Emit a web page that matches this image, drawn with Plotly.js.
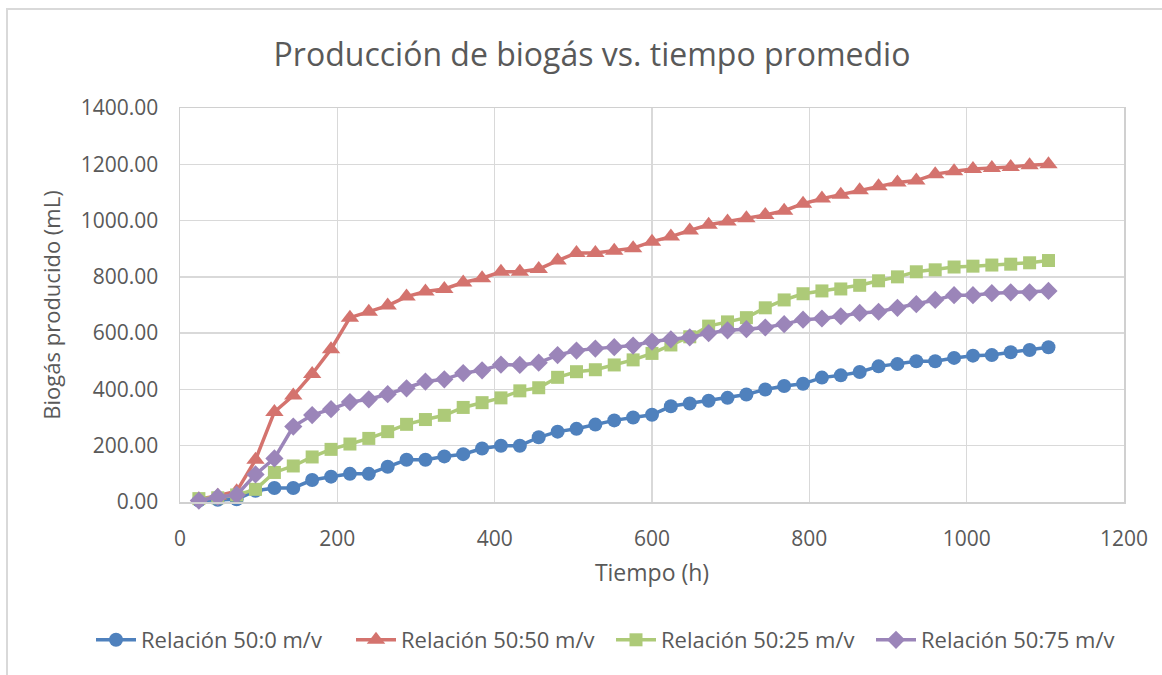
<!DOCTYPE html>
<html>
<head>
<meta charset="utf-8">
<script src="https://cdn.plot.ly/plotly-3.0.1.min.js"></script>
<style>
  html, body { margin: 0; padding: 0; background: #ffffff; }
  #wrap { position: relative; width: 1162px; height: 675px; overflow: hidden; }
  #chart { position: absolute; left: 0; top: 0; width: 1162px; height: 675px; }
  #frame { position: absolute; left: 6px; top: 8px; width: 1200px; height: 720px;
           border: 2px solid #d9d9d9; pointer-events: none; box-sizing: border-box; }
</style>
</head>
<body>
<div id="wrap">
  <div id="chart"></div>
  <div id="frame"></div>
</div>
<script>
// Time (h)
const tiempo = [24, 48, 72, 96, 120, 144, 168, 192, 216, 240, 264, 288, 312, 336, 360, 384,
  408, 432, 456, 480, 504, 528, 552, 576, 600, 624, 648, 672, 696, 720, 744, 768, 792, 816,
  840, 864, 888, 912, 936, 960, 984, 1008, 1032, 1056, 1080, 1104];

// Biogas produced (mL)
const rel_50_0 = [5, 8, 10, 40, 50, 50, 78, 90, 100, 100, 125, 150, 150, 162, 170, 190,
  200, 200, 230, 250, 260, 275, 290, 300, 310, 340, 350, 360, 370, 382, 400, 412, 420, 442,
  450, 462, 482, 490, 500, 500, 512, 520, 522, 532, 540, 550];

const rel_50_50 = [10, 22, 38, 150, 320, 378, 455, 543, 655, 676, 698, 730, 748, 757, 780, 795,
  818, 818, 828, 858, 885, 885, 893, 902, 925, 943, 965, 985, 997, 1008, 1020, 1035, 1060, 1078,
  1092, 1108, 1122, 1135, 1142, 1165, 1175, 1183, 1187, 1190, 1197, 1200];

const rel_50_25 = [12, 15, 25, 45, 105, 128, 160, 187, 206, 226, 250, 276, 293, 308, 336, 353,
  370, 395, 406, 443, 463, 470, 487, 505, 528, 558, 587, 625, 640, 655, 690, 718, 740, 750,
  757, 770, 786, 800, 818, 825, 835, 838, 842, 845, 850, 858];

const rel_50_75 = [5, 18, 25, 98, 155, 268, 309, 330, 355, 365, 383, 404, 428, 436, 458, 468,
  488, 487, 495, 522, 538, 545, 550, 556, 570, 578, 585, 600, 610, 614, 620, 632, 648, 652,
  660, 672, 676, 690, 703, 718, 735, 735, 742, 745, 745, 750];

const seriesNames = ["Relación 50:0 m/v", "Relación 50:50 m/v", "Relación 50:25 m/v", "Relación 50:75 m/v"];
const seriesData = [rel_50_0, rel_50_50, rel_50_25, rel_50_75];
const colors = ["#4F81BD", "#D4736E", "#ADCA78", "#9B85B9"];
const symbols = ["circle", "triangle-up", "square", "diamond"];
const sizes = [14, 16, 13, 14];

const FONT = "Open Sans, Noto Sans, sans-serif";
const GRAY = "#595959";

const traces = seriesData.map((ys, i) => ({
  type: "scatter",
  mode: "lines+markers",
  name: seriesNames[i],
  x: tiempo,
  y: ys,
  line: { color: colors[i], width: 3.5 },
  marker: { color: colors[i], symbol: symbols[i], size: sizes[i], line: { width: 0 } },
  cliponaxis: false
}));

const layout = {
  width: 1162,
  height: 675,
  paper_bgcolor: "rgba(0,0,0,0)",
  plot_bgcolor: "#ffffff",
  margin: { l: 180, r: 38, t: 108, b: 173, autoexpand: false },
  font: { family: FONT, color: GRAY },
  title: {
    text: "Producción de biogás vs. tiempo promedio",
    font: { family: FONT, size: 32, color: GRAY },
    x: 592 / 1162, xref: "container", xanchor: "center",
    y: 1 - 55 / 675, yref: "container", yanchor: "middle"
  },
  xaxis: {
    range: [0, 1200],
    tickvals: [0, 200, 400, 600, 800, 1000, 1200],
    ticktext: ["0", "200", "400", "600", "800", "1000", "1200"],
    showgrid: true, gridcolor: "#d9d9d9", gridwidth: 1.5,
    showline: true, linecolor: "#d0d0d0", linewidth: 1.5, mirror: true,
    zeroline: false, ticks: "", ticklabelstandoff: 17,
    tickfont: { family: FONT, size: 21, color: GRAY },
    title: { text: "Tiempo (h)", font: { family: FONT, size: 23, color: GRAY }, standoff: 14 },
    automargin: false
  },
  yaxis: {
    range: [0, 1400],
    tickvals: [0, 200, 400, 600, 800, 1000, 1200, 1400],
    ticktext: ["0.00", "200.00", "400.00", "600.00", "800.00", "1000.00", "1200.00", "1400.00"],
    showgrid: true, gridcolor: "#d9d9d9", gridwidth: 1.5,
    showline: true, linecolor: "#d0d0d0", linewidth: 1.5, mirror: true,
    zeroline: false, ticks: "", ticklabelstandoff: 16,
    tickfont: { family: FONT, size: 21, color: GRAY },
    title: { text: "Biogás producido (mL)", font: { family: FONT, size: 22, color: GRAY }, standoff: 14 },
    automargin: false
  },
  legend: {
    orientation: "h",
    xref: "paper", yref: "paper",
    x: (91 - 180) / 944, xanchor: "left",
    y: (502 - 640) / 394, yanchor: "middle",
    font: { family: FONT, size: 22, color: GRAY },
    itemwidth: 40,
    entrywidth: 205,
    bgcolor: "rgba(0,0,0,0)"
  },
  showlegend: true
};

Plotly.newPlot("chart", traces, layout, { displayModeBar: false, staticPlot: true });
</script>
</body>
</html>
